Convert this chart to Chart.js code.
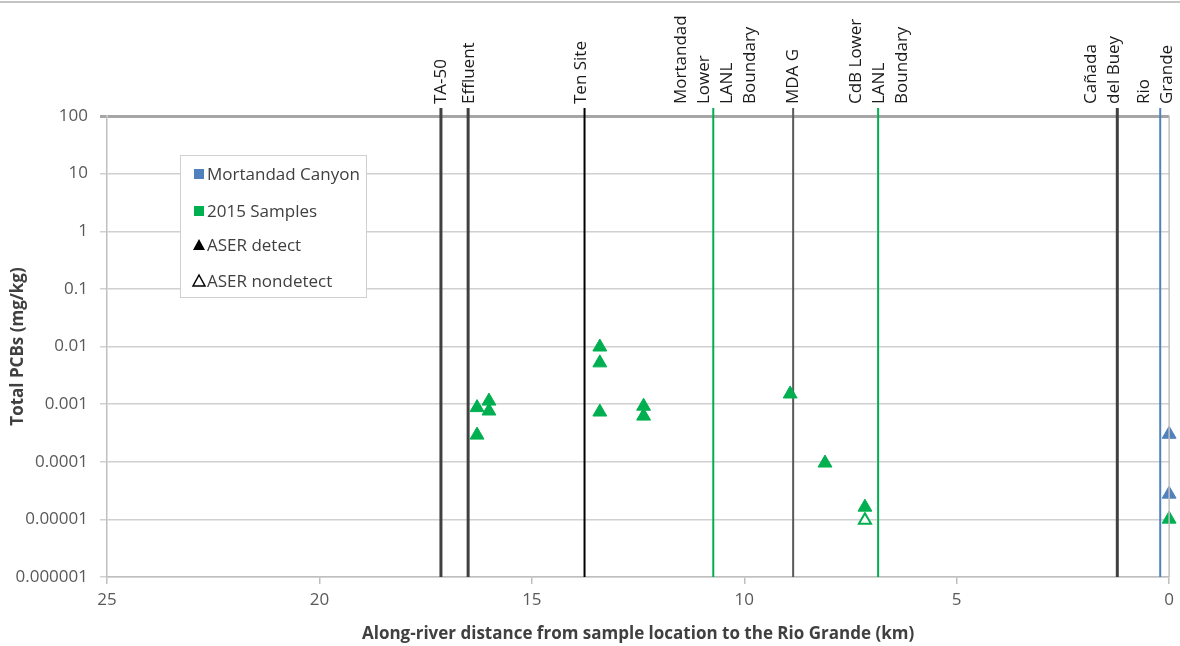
<!DOCTYPE html>
<html><head><meta charset="utf-8">
<script src="https://cdn.jsdelivr.net/npm/chart.js@4/dist/chart.umd.min.js"></script>
<style>html,body{margin:0;padding:0;background:#fff;overflow:hidden}#wrap{width:1180px;height:646px;position:relative}</style>
</head><body><div id="wrap"><canvas id="c" width="1180" height="646"></canvas></div>
<script>
// ---- data ----
const mortandadKm = [0.0, 0.0];
const mortandadPCB = [0.0003, 0.0000274];
const samples2015Km = [16.29, 16.01, 16.01, 16.29, 13.40, 13.40, 13.40, 12.37, 12.37, 8.92, 8.10, 7.16, 0.0];
const samples2015PCB = [0.00087, 0.00113, 0.00076, 0.00029, 0.0098, 0.0052, 0.00073, 0.00092, 0.00062, 0.0015, 0.000095, 0.0000163, 0.0000101];
const nondetectKm = [7.16];
const nondetectPCB = [0.0000097];
const markerKm = [17.14, 16.50, 13.76, 10.73, 8.85, 6.85, 1.22, 0.21];
const markerLabels = [["TA-50"], ["Effluent"], ["Ten Site"], ["Mortandad", "Lower", "LANL", "Boundary"], ["MDA G"], ["CdB Lower", "LANL", "Boundary"], ["Cañada", "del Buey"], ["Rio", "Grande"]];
const yTicks = [100, 10, 1, 0.1, 0.01, 0.001, 0.0001, 0.00001, 0.000001];
const yTickLabels = ["100", "10", "1", "0.1", "0.01", "0.001", "0.0001", "0.00001", "0.000001"];
const xTicks = [25, 20, 15, 10, 5, 0];
const legendLabels = ["Mortandad Canyon", "2015 Samples", "ASER detect", "ASER nondetect"];

// ---- styles ----
const GREEN = '#00B050', BLUE = '#4F81BD';
const markerColors = ['#404040', '#404040', '#000000', GREEN, '#595959', GREEN, '#404040', BLUE];
const markerWidths = [3, 3, 2, 2, 2, 2, 3, 2];
const markerLabelDx = [0, 1, -3, 2, 0, 1, -15, -5];
const FONT = "'Open Sans', sans-serif";
Chart.defaults.font.family = FONT;

const pts = (xs, ys) => xs.map((x, i) => ({x: x, y: ys[i]}));

const datasets = [
  {label: legendLabels[0], data: pts(mortandadKm, mortandadPCB), backgroundColor: BLUE, borderColor: BLUE,
   pointStyle: 'triangle', pointRadius: 8, borderWidth: 1, showLine: false, order: 0, clip: false},
  {label: legendLabels[1], data: pts(samples2015Km, samples2015PCB), backgroundColor: GREEN, borderColor: GREEN,
   pointStyle: 'triangle', pointRadius: 8, borderWidth: 1, showLine: false, order: 0, clip: false},
  {label: legendLabels[3], data: pts(nondetectKm, nondetectPCB), backgroundColor: '#ffffff', borderColor: GREEN,
   pointStyle: 'triangle', pointRadius: 7, borderWidth: 2, showLine: false, order: 0, clip: false}
];
markerKm.forEach((km, i) => {
  datasets.push({label: markerLabels[i].join(' '), data: [{x: km, y: yTicks[yTicks.length - 1]}, {x: km, y: yTicks[0]}],
    showLine: true, borderColor: markerColors[i], borderWidth: markerWidths[i], pointRadius: 0, order: 1});
});

const decor = {
  id: 'decor',
  beforeDraw(chart) {
    const ctx = chart.ctx;
    ctx.save();
    ctx.fillStyle = '#fff';
    ctx.fillRect(0, 0, chart.width, chart.height);
    ctx.strokeStyle = '#c4c4c4'; ctx.lineWidth = 2;
    ctx.beginPath(); ctx.moveTo(0, 2); ctx.lineTo(chart.width, 2); ctx.stroke();
    ctx.restore();
  },
  afterDatasetsDraw(chart) {
    const ctx = chart.ctx, xs = chart.scales.x, a = chart.chartArea;
    ctx.save();
    ctx.strokeStyle = '#bfbfbf'; ctx.lineWidth = 1.5;
    ctx.beginPath(); ctx.moveTo(a.right, a.top); ctx.lineTo(a.right, a.bottom); ctx.stroke();
    markerKm.forEach((km, i) => {
      const px = xs.getPixelForValue(km);
      ctx.strokeStyle = markerColors[i]; ctx.lineWidth = markerWidths[i];
      ctx.beginPath(); ctx.moveTo(px, a.top - 8); ctx.lineTo(px, a.top); ctx.stroke();
      const lines = markerLabels[i], n = lines.length, lh = 23;
      ctx.fillStyle = '#1a1a1a'; ctx.font = '17px ' + FONT;
      ctx.textAlign = 'left'; ctx.textBaseline = 'middle';
      lines.forEach((t, j) => {
        const lx = px + (j - (n - 1) / 2) * lh + markerLabelDx[i];
        ctx.save(); ctx.translate(lx, a.top - 12); ctx.rotate(-Math.PI / 2);
        ctx.fillText(t, 0, 0); ctx.restore();
      });
    });
    const bx = 180, by = 155, bw = 186, bh = 142;
    ctx.fillStyle = '#fff'; ctx.fillRect(bx, by, bw, bh);
    ctx.strokeStyle = '#d0d0d0'; ctx.lineWidth = 1;
    ctx.strokeRect(bx + 0.5, by + 0.5, bw, bh);
    const rows = [174, 211, 245, 281];
    ctx.font = '17px ' + FONT; ctx.textBaseline = 'middle'; ctx.textAlign = 'left';
    legendLabels.forEach((t, i) => {
      const cy = rows[i], cx = 199;
      if (i < 2) {
        ctx.fillStyle = i === 0 ? BLUE : GREEN;
        ctx.fillRect(cx - 5, cy - 5, 10, 10);
      } else {
        ctx.beginPath(); ctx.moveTo(cx, cy - 6); ctx.lineTo(cx + 6, cy + 5); ctx.lineTo(cx - 6, cy + 5); ctx.closePath();
        if (i === 2) { ctx.fillStyle = '#000'; ctx.fill(); }
        else { ctx.strokeStyle = '#000'; ctx.lineWidth = 1.5; ctx.stroke(); }
      }
      ctx.fillStyle = '#404040';
      ctx.fillText(t, 207, cy + 1);
    });
    ctx.restore();
  }
};

new Chart(document.getElementById('c'), {
  type: 'scatter',
  data: {datasets: datasets},
  options: {
    responsive: false, animation: false,
    layout: {padding: {top: 116, right: 8, left: 0, bottom: 0}},
    plugins: {legend: {display: false}, tooltip: {enabled: false}},
    scales: {
      x: {
        type: 'linear', reverse: true, min: 0, max: 25,
        afterFit: s => { s.height = 69; },
        afterBuildTicks: s => { s.ticks = xTicks.map(v => ({value: v})); },
        grid: {drawOnChartArea: false, drawTicks: true, tickLength: 7, color: '#bfbfbf', lineWidth: 1.5},
        border: {color: '#bfbfbf', width: 1.5},
        ticks: {font: {size: 17}, color: '#595959', padding: 6, maxRotation: 0},
        title: {display: true, text: 'Along-river distance from sample location to the Rio Grande (km)',
                font: {size: 17, weight: 'bold'}, color: '#404040', padding: {top: 0, bottom: 2}}
      },
      y: {
        type: 'logarithmic', min: 1e-6, max: 100,
        afterFit: s => { s.width = 107; },
        afterBuildTicks: s => { s.ticks = yTicks.slice().reverse().map(v => ({value: v})); },
        grid: {color: c => (c.tick && c.tick.value === 100) ? '#a6a6a6' : '#d0d0d0',
               lineWidth: c => (c.tick && c.tick.value === 100) ? 3 : 1.5, tickLength: 7},
        border: {color: '#bfbfbf', width: 1.5},
        ticks: {font: {size: 17}, color: '#595959', padding: 12,
                callback: v => { const i = yTicks.findIndex(t => Math.abs(t - v) / t < 1e-6); return i >= 0 ? yTickLabels[i] : ''; }},
        title: {display: true, text: 'Total PCBs (mg/kg)', font: {size: 17, weight: 'bold'}, color: '#404040', padding: {top: 8, bottom: 0}}
      }
    }
  },
  plugins: [decor]
});
</script>
</body></html>
